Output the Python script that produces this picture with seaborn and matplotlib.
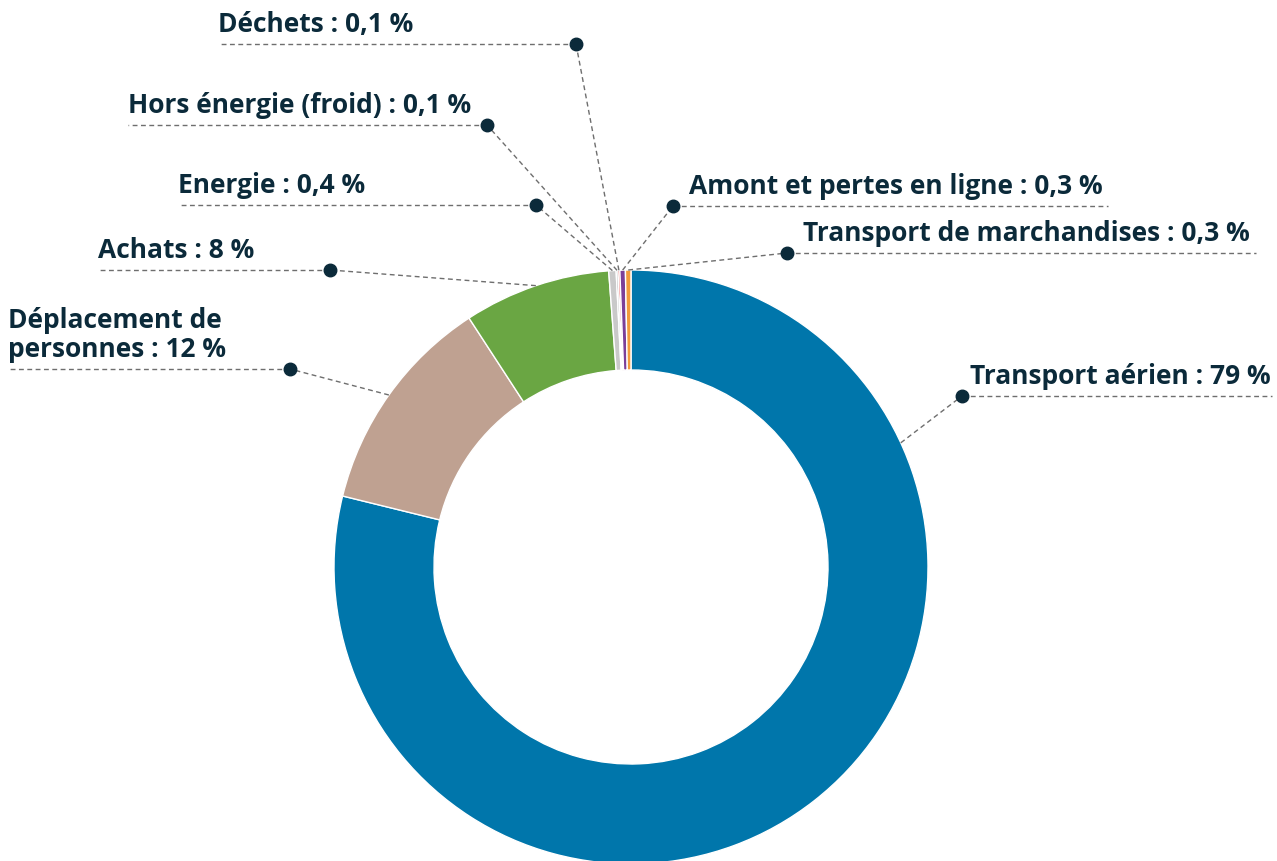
import numpy as np
import matplotlib.pyplot as plt
import seaborn as sns

sns.set_theme(style="white")
plt.rcParams["font.family"] = ["Open Sans", "DejaVu Sans"]

# ---------------------------------------------------------------
# données
categories = ["Transport aérien", "Déplacement de\npersonnes", "Achats", "Energie",
              "Hors énergie (froid)", "Déchets", "Amont et pertes en ligne",
              "Transport de marchandises"]
values = [79, 12, 8, 0.4, 0.1, 0.1, 0.3, 0.3]
value_labels = ["79 %", "12 %", "8 %", "0,4 %", "0,1 %", "0,1 %", "0,3 %", "0,3 %"]
colors = ["#0076AB", "#BFA191", "#6AA643", "#C9C9C9", "#9B9B9B",
          "#E5322D", "#7C3F98", "#F39A3B"]

# mise en page des étiquettes (pixels, origine en haut à gauche)
# (côté, x du point, y de la ligne, x de l'autre bout, position relative sur la part)
label_layout = [
    ("right", 962, 396, 1272, 0.23),
    ("left", 290, 369, 8, 0.5),
    ("left", 330, 270, 98, 0.5),
    ("left", 536, 205, 178, 0.5),
    ("left", 487, 125, 128, 0.5),
    ("left", 576, 44, 218, 0.5),
    ("right", 673, 206, 1108, 0.5),
    ("right", 787, 253, 1256, 0.5),
]

W, H = 1277, 861
TEXT = "#0B2A3A"
fig = plt.figure(figsize=(W / 100, H / 100), dpi=100)
ax = fig.add_axes([0, 0, 1, 1])

cx, cy, R = 631, H - 567, 297
wedges, _ = ax.pie(values, colors=colors, startangle=90, counterclock=False,
                   center=(cx, cy), radius=R,
                   wedgeprops=dict(width=100, edgecolor="white", linewidth=1.0))
ax.set_xlim(0, W)
ax.set_ylim(0, H)
ax.set_aspect("equal")
ax.axis("off")

for w, cat, lab, (side, dot_x, line_y, end_x, frac) in zip(
        wedges, categories, value_labels, label_layout):
    t1, t2 = sorted([w.theta1, w.theta2])
    # sens horaire : on part de t2
    ang = np.deg2rad(t2 - frac * (t2 - t1))
    ax_x, ax_y = cx + R * np.cos(ang), cy + R * np.sin(ang)
    ly = H - line_y
    ax.plot([ax_x, dot_x], [ax_y, ly], color="#6E6E6E", lw=1.0,
            ls=(0, (3.5, 2.5)), zorder=3)
    ax.plot([dot_x, end_x], [ly, ly], color="#6E6E6E", lw=1.0,
            ls=(0, (3.5, 2.5)), zorder=3)
    ax.plot(dot_x, ly, "o", ms=9, color=TEXT, zorder=4)
    txt = f"{cat} : {lab}"
    if side == "left":
        tx = end_x
    else:
        tx = dot_x + (8 if cat == "Transport aérien" else 16)
    ax.text(tx, ly + 12, txt, ha="left", va="baseline", fontsize=19,
            fontweight="bold", color=TEXT, linespacing=1.1)

fig.savefig("out.png", dpi=100)
